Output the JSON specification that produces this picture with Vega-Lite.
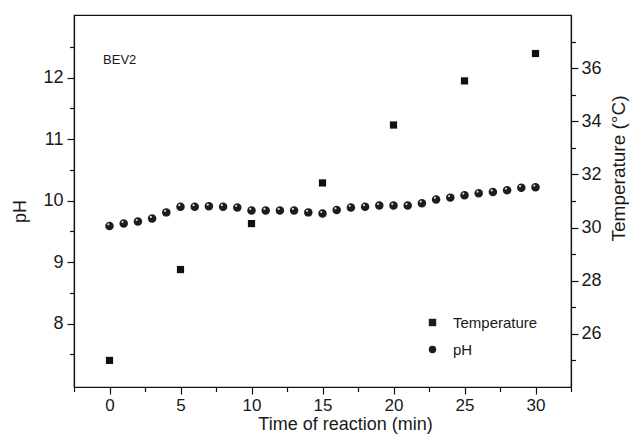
{
  "$schema": "https://vega.github.io/schema/vega-lite/v6.json",
  "width": 497,
  "height": 372,
  "autosize": {"type": "none"},
  "padding": {"left": 74, "top": 15, "right": 62, "bottom": 54},
  "background": "white",
  "config": {
    "font": "Liberation Sans",
    "view": {"stroke": "#111", "strokeWidth": 1.2},
    "axis": {
      "grid": false,
      "domainColor": "#111",
      "domainWidth": 1.2,
      "tickColor": "#111",
      "tickWidth": 1.2,
      "labelColor": "#1a1a1a",
      "labelFontSize": 18,
      "labelFont": "Liberation Sans",
      "titleFont": "Liberation Sans",
      "titleFontSize": 18,
      "titleFontWeight": "normal",
      "titleColor": "#1a1a1a",
      "labelFlush": false,
      "labelOverlap": false
    }
  },
  "data": {
    "values": [
      {"t": 0, "value": 9.59, "series": "pH"},
      {"t": 1, "value": 9.63, "series": "pH"},
      {"t": 2, "value": 9.66, "series": "pH"},
      {"t": 3, "value": 9.71, "series": "pH"},
      {"t": 4, "value": 9.81, "series": "pH"},
      {"t": 5, "value": 9.90, "series": "pH"},
      {"t": 6, "value": 9.90, "series": "pH"},
      {"t": 7, "value": 9.91, "series": "pH"},
      {"t": 8, "value": 9.90, "series": "pH"},
      {"t": 9, "value": 9.89, "series": "pH"},
      {"t": 10, "value": 9.84, "series": "pH"},
      {"t": 11, "value": 9.84, "series": "pH"},
      {"t": 12, "value": 9.84, "series": "pH"},
      {"t": 13, "value": 9.84, "series": "pH"},
      {"t": 14, "value": 9.81, "series": "pH"},
      {"t": 15, "value": 9.79, "series": "pH"},
      {"t": 16, "value": 9.85, "series": "pH"},
      {"t": 17, "value": 9.89, "series": "pH"},
      {"t": 18, "value": 9.90, "series": "pH"},
      {"t": 19, "value": 9.92, "series": "pH"},
      {"t": 20, "value": 9.92, "series": "pH"},
      {"t": 21, "value": 9.92, "series": "pH"},
      {"t": 22, "value": 9.96, "series": "pH"},
      {"t": 23, "value": 10.02, "series": "pH"},
      {"t": 24, "value": 10.05, "series": "pH"},
      {"t": 25, "value": 10.09, "series": "pH"},
      {"t": 26, "value": 10.12, "series": "pH"},
      {"t": 27, "value": 10.14, "series": "pH"},
      {"t": 28, "value": 10.17, "series": "pH"},
      {"t": 29, "value": 10.21, "series": "pH"},
      {"t": 30, "value": 10.22, "series": "pH"},
      {"t": 0, "value": 25.0, "series": "Temperature"},
      {"t": 5, "value": 28.42, "series": "Temperature"},
      {"t": 10, "value": 30.15, "series": "Temperature"},
      {"t": 15, "value": 31.68, "series": "Temperature"},
      {"t": 20, "value": 33.86, "series": "Temperature"},
      {"t": 25, "value": 35.52, "series": "Temperature"},
      {"t": 30, "value": 36.55, "series": "Temperature"},
      {"t": -0.45, "value": 12.29, "series": "label", "label": "BEV2"}
    ]
  },
  "encoding": {
    "x": {
      "field": "t", "type": "quantitative",
      "scale": {"domain": [-2.5, 32.5], "nice": false, "zero": false},
      "axis": {
        "values": [-2.5, 0, 2.5, 5, 7.5, 10, 12.5, 15, 17.5, 20, 22.5, 25, 27.5, 30, 32.5],
        "labelExpr": "datum.value % 5 === 0 ? format(datum.value, 'd') : ''",
        "tickSize": {"condition": {"test": "datum.value % 5 === 0", "value": 7}, "value": 4.5},
        "labelFontSize": 17,
        "labelPadding": 3,
        "title": "Time of reaction (min)",
        "titleFontSize": 18,
        "titlePadding": 2,
        "titleX": 271
      }
    }
  },
  "layer": [
    {
      "transform": [{"filter": "datum.series === 'pH'"}],
      "mark": {"type": "point", "filled": true, "color": "#1c1c1c", "size": 72, "opacity": 1},
      "encoding": {
        "y": {
          "field": "value", "type": "quantitative",
          "scale": {"domain": [6.97, 13.02], "nice": false, "zero": false},
          "axis": {
            "orient": "left",
            "values": [7.5, 8, 8.5, 9, 9.5, 10, 10.5, 11, 11.5, 12, 12.5],
            "labelExpr": "datum.value % 1 === 0 ? format(datum.value, 'd') : ''",
            "tickSize": {"condition": {"test": "datum.value % 1 === 0", "value": 7}, "value": 4.5},
            "labelPadding": 4,
            "title": "pH",
            "titlePadding": 13,
            "titleY": 196
          }
        },
        "shape": {
          "field": "series", "type": "nominal",
          "scale": {"domain": ["Temperature", "pH"], "range": ["square", "circle"]},
          "legend": {
            "orient": "none",
            "legendX": 351,
            "legendY": 300,
            "title": null,
            "padding": 0,
            "symbolSize": 55,
            "symbolFillColor": "#111",
            "symbolStrokeColor": "#111",
            "labelFontSize": 15,
            "labelFont": "Liberation Sans",
            "labelColor": "#1a1a1a",
            "labelOffset": 13,
            "rowPadding": 11
          }
        }
      }
    },
    {
      "transform": [{"filter": "datum.series === 'pH'"}],
      "mark": {"type": "circle", "color": "#d8d8d8", "size": 5, "xOffset": -1.2, "yOffset": -1.6, "opacity": 1},
      "encoding": {
        "y": {"field": "value", "type": "quantitative", "scale": {"domain": [6.97, 13.02], "nice": false, "zero": false}, "axis": null}
      }
    },
    {
      "transform": [{"filter": "datum.series === 'Temperature'"}],
      "mark": {"type": "point", "filled": true, "color": "#111", "size": 52, "opacity": 1},
      "encoding": {
        "y": {
          "field": "value", "type": "quantitative",
          "scale": {"domain": [24, 38], "nice": false, "zero": false},
          "axis": {
            "orient": "right",
            "values": [25, 26, 27, 28, 29, 30, 31, 32, 33, 34, 35, 36, 37],
            "labelExpr": "datum.value % 2 === 0 ? datum.label : ''",
            "tickSize": {"condition": {"test": "datum.value % 2 === 0", "value": 7}, "value": 4.5},
            "labelPadding": 3,
            "title": "Temperature (°C)",
            "titleAngle": 270,
            "titleBaseline": "top",
            "titlePadding": 8,
            "titleFontSize": 19,
            "titleY": 153
          }
        },
        "shape": {"field": "series", "type": "nominal"}
      }
    },
    {
      "transform": [{"filter": "datum.series === 'label'"}],
      "mark": {"type": "text", "align": "left", "baseline": "middle", "fontSize": 13, "font": "Liberation Sans", "color": "#1a1a1a"},
      "encoding": {
        "y": {"field": "value", "type": "quantitative", "scale": {"domain": [6.97, 13.02], "nice": false, "zero": false}, "axis": null},
        "text": {"field": "label"}
      }
    }
  ],
  "resolve": {"scale": {"y": "independent"}}
}
